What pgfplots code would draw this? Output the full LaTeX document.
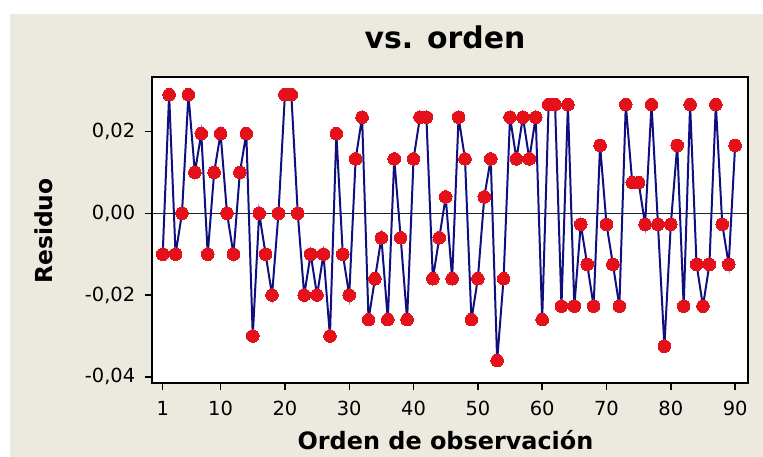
\documentclass[border=0pt]{standalone}
\usepackage{pgfplots}
\pgfplotsset{compat=1.18}
\usetikzlibrary{backgrounds}
\usepackage{fontspec}
\setmainfont{DejaVu Sans}
\definecolor{bgbeige}{RGB}{236,233,222}
\definecolor{navyline}{RGB}{15,15,125}
\definecolor{dotred}{RGB}{228,16,26}
\pgfplotstableread{
i r
1 -0.010
2 0.029
3 -0.010
4 0.000
5 0.029
6 0.010
7 0.0195
8 -0.010
9 0.010
10 0.0195
11 0.000
12 -0.010
13 0.010
14 0.0195
15 -0.030
16 0.000
17 -0.010
18 -0.020
19 0.000
20 0.029
21 0.029
22 0.000
23 -0.020
24 -0.010
25 -0.020
26 -0.010
27 -0.030
28 0.0195
29 -0.010
30 -0.020
31 0.0133
32 0.0235
33 -0.026
34 -0.016
35 -0.006
36 -0.026
37 0.0133
38 -0.006
39 -0.026
40 0.0133
41 0.0235
42 0.0235
43 -0.016
44 -0.006
45 0.004
46 -0.016
47 0.0235
48 0.0133
49 -0.026
50 -0.016
51 0.004
52 0.0133
53 -0.036
54 -0.016
55 0.0235
56 0.0133
57 0.0235
58 0.0133
59 0.0235
60 -0.026
61 0.0266
62 0.0266
63 -0.0227
64 0.0266
65 -0.0227
66 -0.0027
67 -0.0125
68 -0.0227
69 0.0166
70 -0.0027
71 -0.0125
72 -0.0227
73 0.0266
74 0.0075
75 0.0075
76 -0.0027
77 0.0266
78 -0.0027
79 -0.0325
80 -0.0027
81 0.0166
82 -0.0227
83 0.0266
84 -0.0125
85 -0.0227
86 -0.0125
87 0.0266
88 -0.0027
89 -0.0125
90 0.0166
}\residuos
\begin{document}
\begin{tikzpicture}
\begin{axis}[
  scale only axis, width=596.3bp, height=306.3bp,
  xmin=-0.71, xmax=92.0, ymin=-0.0415, ymax=0.0334,
  axis background/.style={fill=white},
  axis line style={black, line width=1.8pt},
  tick pos=left, tick align=outside,
  major tick length=7bp,
  every tick/.style={black, line width=1.4pt},
  xtick={1,10,20,30,40,50,60,70,80,90},
  ytick={-0.04,-0.02,0,0.02},
  yticklabels={{-0,04},{-0,02},{0,00},{0,02}},
  scaled y ticks=false,
  /pgf/number format/assume math mode=true,
  xticklabel style={font=\fontsize{19.5}{19.5}\selectfont, yshift=-8bp},
  yticklabel style={font=\fontsize{19.5}{19.5}\selectfont, xshift=-6bp},
  clip=false,
]
\addplot[black!85, line width=1.4pt, no marks] coordinates {(-0.71,0) (92.0,0)};
\addplot[navyline, line width=2pt, mark=*, mark size=6.3bp,
  mark options={fill=dotred, draw=dotred, line width=0pt}] table[x=i, y=r] {\residuos};
\coordinate (O) at (rel axis cs:0,0);
\end{axis}
\begin{scope}[shift={(O)}]
  \begin{pgfonlayer}{background}
    \fill[white] (-151.7bp,-74bp) rectangle (611.3bp,383bp);
    \fill[bgbeige] (-141.7bp,-74bp) rectangle (611.3bp,369bp);
  \end{pgfonlayer}
  \node[font=\bfseries\fontsize{30}{30}\selectfont, anchor=base, inner sep=0pt] at (293.3bp,334bp) {vs. orden};
  \node[font=\bfseries\fontsize{24}{24}\selectfont, anchor=base, inner sep=0pt] at (293.8bp,-66bp) {Orden de observación};
  \node[font=\bfseries\fontsize{23.5}{23.5}\selectfont, anchor=base, rotate=90, inner sep=0pt] at (-99.2bp,152bp) {Residuo};
\end{scope}
\pgfresetboundingbox
\path[use as bounding box] (O) ++(-151.7bp,-74bp) rectangle ++(763bp,457bp);
\end{tikzpicture}
\end{document}
